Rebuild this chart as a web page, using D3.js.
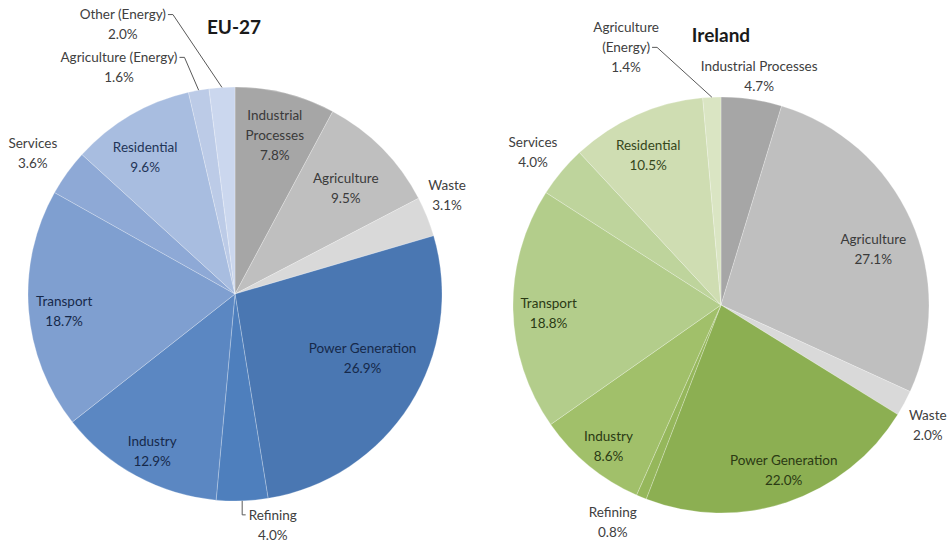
<!DOCTYPE html>
<html>
<head>
<meta charset="utf-8">
<script src="https://cdn.jsdelivr.net/npm/d3@7"></script>
<style>
  html, body { margin: 0; padding: 0; background: #ffffff; }
  svg { display: block; font-family: Lato, "Open Sans", sans-serif; }
</style>
</head>
<body>
<svg id="chart" width="951" height="543"></svg>
<script>
// Greenhouse gas emissions by sector, share of total (%)
const categories = ["Industrial Processes", "Agriculture", "Waste", "Power Generation", "Refining",
  "Industry", "Transport", "Services", "Residential", "Agriculture (Energy)", "Other (Energy)"];
const euValues = [7.8, 9.5, 3.1, 26.9, 4.0, 12.9, 18.7, 3.6, 9.6, 1.6, 2.0];
const ieValues = [4.7, 27.1, 2.0, 22.0, 0.8, 8.6, 18.8, 4.0, 10.5, 1.4, 0];

// Label text, split into lines
const euNameLines = [["Industrial", "Processes"], ["Agriculture"], ["Waste"], ["Power Generation"], ["Refining"],
  ["Industry"], ["Transport"], ["Services"], ["Residential"], ["Agriculture (Energy)"], ["Other (Energy)"]];
const ieNameLines = [["Industrial Processes"], ["Agriculture"], ["Waste"], ["Power Generation"], ["Refining"],
  ["Industry"], ["Transport"], ["Services"], ["Residential"], ["Agriculture", "(Energy)"], ["Other (Energy)"]];

const titles = ["EU-27", "Ireland"];

// Slice fills
const euColors = ["#a6a6a6", "#bfbfbf", "#d9d9d9", "#4a77b2", "#4e7fbd", "#5b87c2", "#7f9fd0",
  "#8ea9d6", "#a8bde0", "#bccbe7", "#cbd7ee"];
const ieColors = ["#a6a6a6", "#bfbfbf", "#d9d9d9", "#8caf52", "#95b75b", "#a1c06a", "#b3cd8b",
  "#bed49c", "#cfddb2", "#dae5c3", "#e4ecd4"];
const euInk = ["#3a3a3a", "#3a3a3a", "#404040", "#16294a", "#404040", "#16294a", "#16294a",
  "#404040", "#1f3558", "#404040", "#404040"];
const ieInk = ["#404040", "#3a3a3a", "#404040", "#2b3a14", "#404040", "#2b3a14", "#2b3a14",
  "#404040", "#36471c", "#404040", "#404040"];

// Label placement: radius factor, angular shift (deg), leader style
const euPlace = [
  {f: 0.79, da: 0}, {f: 0.74, da: 1}, {f: 1.13, da: -3}, {f: 0.69, da: -5.5},
  {f: 1.13, da: -7.3, leader: "start", line: 0},
  {f: 0.86, da: -0.8}, {f: 0.83, da: -1.5}, {f: 1.19, da: -1}, {f: 0.79, da: -3},
  {f: 1.23, da: -17, leader: "end", line: 0}, {f: 1.41, da: -19, leader: "end", line: 0}
];
const iePlace = [
  {f: 1.115, da: 1}, {f: 0.78, da: 4}, {f: 1.15, da: 2}, {f: 0.85, da: -2.2},
  {f: 1.165, da: 4}, {f: 0.87, da: -1}, {f: 0.83, da: -1.5}, {f: 1.165, da: -0.8},
  {f: 0.80, da: -2}, {f: 1.32, da: -17.7, leader: "end", line: 1}, {f: 1, da: 0}
];

const charts = [
  {cx: 235, cy: 294, r: 207, values: euValues, names: euNameLines, colors: euColors, ink: euInk,
   place: euPlace, title: titles[0], tx: 234, ty: 34},
  {cx: 721, cy: 305, r: 208, values: ieValues, names: ieNameLines, colors: ieColors, ink: ieInk,
   place: iePlace, title: titles[1], tx: 721, ty: 42}
];

const svg = d3.select("#chart");
const fmt = d3.format(".1f");
const lineH = 20;

charts.forEach(c => {
  const data = categories.map((name, i) => ({i, name, value: c.values[i]}));
  const pie = d3.pie().sort(null).value(d => d.value).startAngle(0).endAngle(2 * Math.PI);
  const arcs = pie(data);
  const arc = d3.arc().innerRadius(0).outerRadius(c.r);
  const g = svg.append("g").attr("transform", `translate(${c.cx},${c.cy})`);

  g.selectAll("path.slice")
    .data(arcs.filter(a => a.data.value > 0))
    .join("path")
    .attr("class", "slice")
    .attr("d", arc)
    .attr("fill", d => c.colors[d.data.i])
    .attr("stroke", "rgba(255,255,255,0.3)")
    .attr("stroke-width", 0.8);

  arcs.filter(a => a.data.value > 0).forEach(a => {
    const p = c.place[a.data.i];
    const mid = (a.startAngle + a.endAngle) / 2;
    const ang = mid + p.da * Math.PI / 180;
    const x = p.f * c.r * Math.sin(ang);
    const y = -p.f * c.r * Math.cos(ang);
    const lines = c.names[a.data.i].concat([fmt(a.data.value) + "%"]);
    const y0 = y - (lines.length - 1) * lineH / 2;

    const t = g.append("text")
      .attr("text-anchor", "middle")
      .attr("font-size", 13.5)
      .attr("fill", c.ink[a.data.i]);
    lines.forEach((s, k) => {
      t.append("tspan").attr("x", x).attr("y", y0 + k * lineH).attr("dy", "0.35em").text(s);
    });

    if (p.leader) {
      const tsp = t.selectAll("tspan").nodes()[p.line];
      const bb = tsp.getBBox();
      const ly = y0 + p.line * lineH;
      const edge = [c.r * Math.sin(mid), -c.r * Math.cos(mid)];
      let pts;
      if (p.leader === "end") {
        const sx = bb.x + bb.width + 2;
        pts = [[sx, ly], [sx + 5, ly], edge];
      } else {
        const sx = bb.x - 3;
        pts = [edge, [edge[0], ly], [sx, ly]];
      }
      g.append("path")
        .attr("d", d3.line()(pts))
        .attr("fill", "none")
        .attr("stroke", "#595959")
        .attr("stroke-width", 1);
    }
  });

  svg.append("text")
    .attr("x", c.tx).attr("y", c.ty)
    .attr("text-anchor", "middle")
    .attr("font-size", 19)
    .attr("font-weight", "bold")
    .attr("fill", "#1a1a1a")
    .text(c.title);
});
</script>
</body>
</html>
